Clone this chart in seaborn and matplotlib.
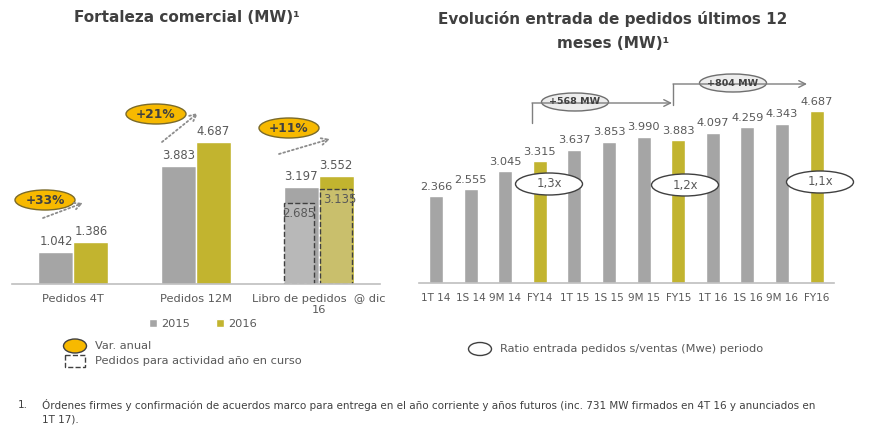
import matplotlib.pyplot as plt
import seaborn as sns
import pandas as pd
from matplotlib.patches import Ellipse, Rectangle

sns.set_theme(style='white')
plt.rcParams['font.family'] = ['DejaVu Sans']

GRAY = '#a5a5a5'
OLIVE = '#c2b42f'
TXT = '#595959'
DARK = '#404040'

# --- datos izquierda
groups = ['Pedidos 4T', 'Pedidos 12M', 'Libro de pedidos  @ dic\n16']
years = ['2015', '2016']
values_2015 = [1.042, 3.883, 3.197]
values_2016 = [1.386, 4.687, 3.552]
curso_vals = [2.685, 3.135]
var_labels = ['+33%', '+21%', '+11%']

# --- datos derecha
periods = ['1T 14', '1S 14', '9M 14', 'FY14', '1T 15', '1S 15', '9M 15', 'FY15',
           '1T 16', '1S 16', '9M 16', 'FY16']
orders = [2.366, 2.555, 3.045, 3.315, 3.637, 3.853, 3.990, 3.883,
          4.097, 4.259, 4.343, 4.687]
ratio_labels = ['1,3x', '1,2x', '1,1x']
delta_labels = ['+568 MW', '+804 MW']

W, H = 869, 440
fig = plt.figure(figsize=(W / 100, H / 100), dpi=100)


def px_axes(x0, y0, x1, y1):
    # caja en pixeles (y desde arriba)
    return fig.add_axes([x0 / W, 1 - y1 / H, (x1 - x0) / W, (y1 - y0) / H])


fmt = lambda v: f'{v:.3f}'

# ---------------- izquierda
left_df = pd.DataFrame({
    'grupo': groups * 2,
    'year': [years[0]] * 3 + [years[1]] * 3,
    'MW': values_2015 + values_2016,
})
ax1 = px_axes(12, 90, 380, 284)
sns.barplot(data=left_df, x='grupo', y='MW', hue='year', palette=[GRAY, OLIVE],
            width=0.57, gap=0, ax=ax1, saturation=1, errorbar=None)
ax1.set_xlim(-0.5, 2.5)
ax1.set_ylim(0, 194 / 30.3)
for c in ax1.containers:
    ax1.bar_label(c, labels=[fmt(v) for v in c.datavalues], padding=3,
                  color=TXT, fontsize=8.4)
# pedidos para actividad año en curso
bw = 0.285
ax1.bar([2 - bw + 0.1225, 2 + 0.008 + 0.13], curso_vals, width=[0.245, 0.26],
        color=['#b8b8b8', '#c9bf6c'], edgecolor='#404040', linestyle='--', linewidth=1)
for xc, v in zip([1.835, 2.17], curso_vals):
    ax1.annotate(fmt(v), (xc, v), xytext=(0, -7.5), textcoords='offset points',
                 ha='center', va='center', color=TXT, fontsize=8.4)
sns.move_legend(ax1, 'center', bbox_to_anchor=(191 / 368, (284 - 324) / 194),
                ncol=2, frameon=False, title=None, fontsize=8.2,
                handlelength=0.7, handleheight=0.7, columnspacing=2.2, handletextpad=0.4)
for t in ax1.get_legend().get_texts():
    t.set_color(TXT)

# ---------------- derecha
right_df = pd.DataFrame({'periodo': periods, 'MW': orders})
bar_colors = [OLIVE if p.startswith('FY') else GRAY for p in periods]
ax2 = px_axes(418.7, 60, 833.9, 283)
sns.barplot(data=right_df, x='periodo', y='MW', hue='periodo', palette=bar_colors,
            width=0.4, legend=False, ax=ax2, saturation=1, errorbar=None)
ax2.set_xlim(-0.5, 11.5)
ax2.set_ylim(0, 223 / 36.7)
for c in ax2.containers:
    ax2.bar_label(c, labels=[fmt(v) for v in c.datavalues], padding=3,
                  color=TXT, fontsize=8.2)

for ax, fs in ((ax1, 8.2), (ax2, 7.5)):
    ax.set_xlabel('')
    ax.set_ylabel('')
    ax.set_yticks([])
    sns.despine(ax=ax, left=True)
    ax.spines['bottom'].set_color('#bfbfbf')
    ax.spines['bottom'].set_linewidth(1.2)
    ax.tick_params(axis='x', length=0, pad=7, labelsize=fs, labelcolor=TXT)
    ax.patch.set_alpha(0)

# ---------------- capa de anotaciones (pixeles)
ov = fig.add_axes([0, 0, 1, 1], zorder=5)
ov.set_xlim(0, W)
ov.set_ylim(H, 0)
ov.axis('off')
ov.patch.set_alpha(0)

fig.text(187 / W, 1 - 18 / H, 'Fortaleza comercial (MW)¹', ha='center', va='center',
         fontsize=11, fontweight='bold', color=DARK)
fig.text(613 / W, 1 - 31 / H, 'Evolución entrada de pedidos últimos 12\nmeses (MW)¹',
         ha='center', va='center', fontsize=11, fontweight='bold', color=DARK,
         linespacing=1.7)

# flechas punteadas + elipses doradas
arrows = [((43, 218), (83, 203)), ((162, 142), (198, 113)), ((279, 154), (330, 139))]
gold_pos = [(45, 200), (156, 114), (289, 128)]
for (p0, p1), (cx, cy), lab in zip(arrows, gold_pos, var_labels):
    ov.annotate('', xy=p1, xytext=p0,
                arrowprops=dict(arrowstyle='->', linestyle=(0, (1, 1.5)), color='#8c8c8c',
                                lw=1.3, shrinkA=0, shrinkB=0))
    ov.add_patch(Ellipse((cx, cy), 60, 20, facecolor='#f7b900', edgecolor='#7a6a2a', lw=1))
    ov.text(cx, cy, lab, ha='center', va='center', fontsize=8.8, fontweight='bold', color=DARK)

# corchetes de incremento
brackets = [((532, 123), (532, 103), (672, 103)), ((673, 105), (673, 84), (807, 84))]
delta_pos = [(575, 102), (733, 83)]
for (a, b, c), (cx, cy), lab in zip(brackets, delta_pos, delta_labels):
    ov.plot([a[0], b[0]], [a[1], b[1]], color='#7f7f7f', lw=1)
    ov.annotate('', xy=c, xytext=b,
                arrowprops=dict(arrowstyle='->', color='#7f7f7f', lw=1,
                                shrinkA=0, shrinkB=0, mutation_scale=12))
    ov.add_patch(Ellipse((cx, cy), 67, 18, facecolor='#ededed', edgecolor='#6f6f6f', lw=1))
    ov.text(cx, cy, lab, ha='center', va='center', fontsize=6.8, fontweight='bold', color=DARK)

# ratios
for (cx, cy), lab in zip([(549, 184), (685, 185), (820, 182)], ratio_labels):
    ov.add_patch(Ellipse((cx, cy), 67, 22, facecolor='white', edgecolor='#404040', lw=1))
    ov.text(cx, cy, lab, ha='center', va='center', fontsize=8.4, color=TXT)

# leyendas extra
ov.add_patch(Ellipse((75, 346), 23, 14, facecolor='#f7b900', edgecolor='#404040', lw=1))
ov.text(95, 346, 'Var. anual', ha='left', va='center', fontsize=8.2, color=TXT)
ov.add_patch(Rectangle((65, 355), 20, 12, facecolor='none', edgecolor='#404040',
                       linestyle='--', lw=1))
ov.text(95, 361, 'Pedidos para actividad año en curso', ha='left', va='center',
        fontsize=8.2, color=TXT)
ov.add_patch(Ellipse((480, 349), 23, 13, facecolor='white', edgecolor='#404040', lw=1))
ov.text(500, 349, 'Ratio entrada pedidos s/ventas (Mwe) periodo', ha='left', va='center',
        fontsize=8.2, color=TXT)

# nota al pie
ov.text(18, 405, '1.', ha='left', va='center', fontsize=7.5, color=DARK)
ov.text(42, 412, 'Órdenes firmes y confirmación de acuerdos marco para entrega en el año '
        'corriente y años futuros (inc. 731 MW firmados en 4T 16 y anunciados en\n1T 17).',
        ha='left', va='center', fontsize=7.5, color=DARK, linespacing=1.45)

fig.savefig('out.png', dpi=100)
